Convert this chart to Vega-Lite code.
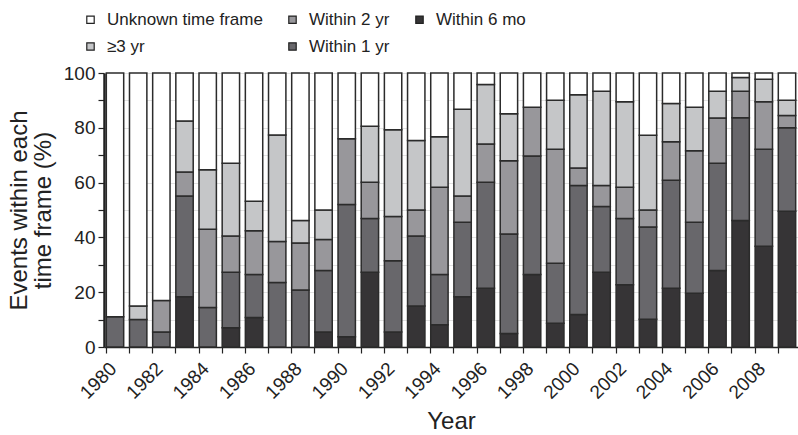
{
  "$schema": "https://vega.github.io/schema/vega-lite/v6.json",
  "width": 694,
  "height": 274,
  "autosize": {"type": "none"},
  "padding": {"left": 104, "top": 73, "right": 0, "bottom": 88},
  "background": "white",
  "config": {
    "view": {"stroke": null},
    "font": "Liberation Sans",
    "axis": {"labelColor": "#222", "titleColor": "#222", "titleFontWeight": "normal", "tickColor": "#222", "domainColor": "#222"}
  },
  "datasets": {
    "cats": [
      {"cat": "Within 6 mo", "rank": 1},
      {"cat": "Within 1 yr", "rank": 2},
      {"cat": "Within 2 yr", "rank": 3},
      {"cat": "≥3 yr", "rank": 4},
      {"cat": "Unknown time frame", "rank": 5}
    ]
  },
  "data": {
    "values": [
      {"year": "1980", "Within 6 mo": 0, "Within 1 yr": 11, "Within 2 yr": 0, "≥3 yr": 0, "Unknown time frame": 89},
      {"year": "1981", "Within 6 mo": 0, "Within 1 yr": 10, "Within 2 yr": 0, "≥3 yr": 5, "Unknown time frame": 85},
      {"year": "1982", "Within 6 mo": 0, "Within 1 yr": 5.5, "Within 2 yr": 11.5, "≥3 yr": 0, "Unknown time frame": 83},
      {"year": "1983", "Within 6 mo": 18.3, "Within 1 yr": 36.8, "Within 2 yr": 8.8, "≥3 yr": 18.6, "Unknown time frame": 17.5},
      {"year": "1984", "Within 6 mo": 0, "Within 1 yr": 14.4, "Within 2 yr": 28.6, "≥3 yr": 21.7, "Unknown time frame": 35.3},
      {"year": "1985", "Within 6 mo": 7.0, "Within 1 yr": 20.3, "Within 2 yr": 13.2, "≥3 yr": 26.6, "Unknown time frame": 32.9},
      {"year": "1986", "Within 6 mo": 10.8, "Within 1 yr": 15.7, "Within 2 yr": 15.9, "≥3 yr": 10.8, "Unknown time frame": 46.8},
      {"year": "1987", "Within 6 mo": 0, "Within 1 yr": 23.5, "Within 2 yr": 15.0, "≥3 yr": 38.9, "Unknown time frame": 22.6},
      {"year": "1988", "Within 6 mo": 0, "Within 1 yr": 20.8, "Within 2 yr": 17.2, "≥3 yr": 8.2, "Unknown time frame": 53.8},
      {"year": "1989", "Within 6 mo": 5.5, "Within 1 yr": 22.4, "Within 2 yr": 11.3, "≥3 yr": 10.8, "Unknown time frame": 50.0},
      {"year": "1990", "Within 6 mo": 3.7, "Within 1 yr": 48.3, "Within 2 yr": 24.0, "≥3 yr": 0, "Unknown time frame": 24.0},
      {"year": "1991", "Within 6 mo": 27.3, "Within 1 yr": 19.6, "Within 2 yr": 13.2, "≥3 yr": 20.5, "Unknown time frame": 19.4},
      {"year": "1992", "Within 6 mo": 5.5, "Within 1 yr": 26.0, "Within 2 yr": 16.1, "≥3 yr": 31.7, "Unknown time frame": 20.7},
      {"year": "1993", "Within 6 mo": 15.0, "Within 1 yr": 25.5, "Within 2 yr": 9.5, "≥3 yr": 25.4, "Unknown time frame": 24.6},
      {"year": "1994", "Within 6 mo": 8.1, "Within 1 yr": 18.4, "Within 2 yr": 31.8, "≥3 yr": 18.4, "Unknown time frame": 23.3},
      {"year": "1995", "Within 6 mo": 18.3, "Within 1 yr": 27.2, "Within 2 yr": 9.6, "≥3 yr": 31.7, "Unknown time frame": 13.2},
      {"year": "1996", "Within 6 mo": 21.4, "Within 1 yr": 38.7, "Within 2 yr": 14.0, "≥3 yr": 21.7, "Unknown time frame": 4.2},
      {"year": "1997", "Within 6 mo": 4.9, "Within 1 yr": 36.3, "Within 2 yr": 26.8, "≥3 yr": 17.1, "Unknown time frame": 14.9},
      {"year": "1998", "Within 6 mo": 26.5, "Within 1 yr": 43.2, "Within 2 yr": 17.8, "≥3 yr": 0, "Unknown time frame": 12.5},
      {"year": "1999", "Within 6 mo": 8.7, "Within 1 yr": 21.9, "Within 2 yr": 41.6, "≥3 yr": 17.9, "Unknown time frame": 9.9},
      {"year": "2000", "Within 6 mo": 11.9, "Within 1 yr": 47.0, "Within 2 yr": 6.4, "≥3 yr": 26.8, "Unknown time frame": 7.9},
      {"year": "2001", "Within 6 mo": 27.3, "Within 1 yr": 24.0, "Within 2 yr": 7.6, "≥3 yr": 34.4, "Unknown time frame": 6.7},
      {"year": "2002", "Within 6 mo": 22.7, "Within 1 yr": 24.2, "Within 2 yr": 11.4, "≥3 yr": 31.2, "Unknown time frame": 10.5},
      {"year": "2003", "Within 6 mo": 10.1, "Within 1 yr": 33.7, "Within 2 yr": 6.2, "≥3 yr": 27.3, "Unknown time frame": 22.7},
      {"year": "2004", "Within 6 mo": 21.4, "Within 1 yr": 39.5, "Within 2 yr": 14.0, "≥3 yr": 14.0, "Unknown time frame": 11.1},
      {"year": "2005", "Within 6 mo": 19.6, "Within 1 yr": 25.9, "Within 2 yr": 26.1, "≥3 yr": 15.9, "Unknown time frame": 12.5},
      {"year": "2006", "Within 6 mo": 27.9, "Within 1 yr": 39.2, "Within 2 yr": 16.5, "≥3 yr": 9.7, "Unknown time frame": 6.7},
      {"year": "2007", "Within 6 mo": 46.2, "Within 1 yr": 37.5, "Within 2 yr": 9.6, "≥3 yr": 5.1, "Unknown time frame": 1.6},
      {"year": "2008", "Within 6 mo": 36.8, "Within 1 yr": 35.4, "Within 2 yr": 17.3, "≥3 yr": 8.2, "Unknown time frame": 2.3},
      {"year": "2009", "Within 6 mo": 49.5, "Within 1 yr": 30.5, "Within 2 yr": 4.5, "≥3 yr": 5.6, "Unknown time frame": 9.9}
    ]
  },
  "transform": [
    {"fold": ["Within 6 mo", "Within 1 yr", "Within 2 yr", "≥3 yr", "Unknown time frame"], "as": ["cat", "pct"]},
    {"filter": "datum.pct > 0"},
    {"lookup": "cat", "from": {"data": {"name": "cats"}, "key": "cat", "fields": ["rank"]}}
  ],
  "mark": {"type": "bar", "stroke": "#2b2b2b", "strokeWidth": 1.5},
  "encoding": {
    "x": {
      "field": "year",
      "type": "ordinal",
      "scale": {"paddingInner": 0.25, "paddingOuter": 0.1},
      "axis": {
        "title": "Year",
        "bandPosition": 0,
        "labelOffset": -8,
        "labelAngle": -45,
        "labelExpr": "toNumber(datum.value) % 2 == 0 ? datum.value : ''",
        "labelFontSize": 19,
        "titleFontSize": 24,
        "tickSize": 6,
        "tickWidth": 1.2,
        "domainWidth": 1.5,
        "labelPadding": 6,
        "titlePadding": 7,
        "grid": false
      }
    },
    "y": {
      "field": "pct",
      "type": "quantitative",
      "stack": "zero",
      "scale": {"domain": [0, 100]},
      "axis": {
        "title": ["Events within each", "time frame (%)"],
        "values": [0, 10, 20, 30, 40, 50, 60, 70, 80, 90, 100],
        "labelExpr": "datum.value % 20 == 0 ? datum.label : ''",
        "labelFontSize": 19,
        "titleFontSize": 24,
        "titleLineHeight": 24,
        "grid": true,
        "gridColor": "#e2e2e2",
        "domainWidth": 2.5,
        "tickSize": 6,
        "tickWidth": 1.2,
        "labelPadding": 3,
        "titlePadding": 8
      }
    },
    "color": {
      "field": "cat",
      "type": "nominal",
      "scale": {
        "domain": ["Unknown time frame", "≥3 yr", "Within 2 yr", "Within 1 yr", "Within 6 mo"],
        "range": ["#ffffff", "#c5c6c8", "#98979b", "#68676b", "#363436"]
      },
      "legend": {
        "title": null,
        "orient": "none",
        "legendX": -22,
        "legendY": -62,
        "columns": 3,
        "direction": "vertical",
        "labelFont": "Liberation Sans",
        "labelFontSize": 17,
        "labelColor": "#222",
        "symbolType": "square",
        "symbolSize": 55,
        "symbolStrokeColor": "#222",
        "symbolStrokeWidth": 1.2,
        "columnPadding": 21,
        "rowPadding": 9,
        "labelOffset": 8,
        "padding": 0
      }
    },
    "order": {"field": "rank", "type": "quantitative"}
  }
}
